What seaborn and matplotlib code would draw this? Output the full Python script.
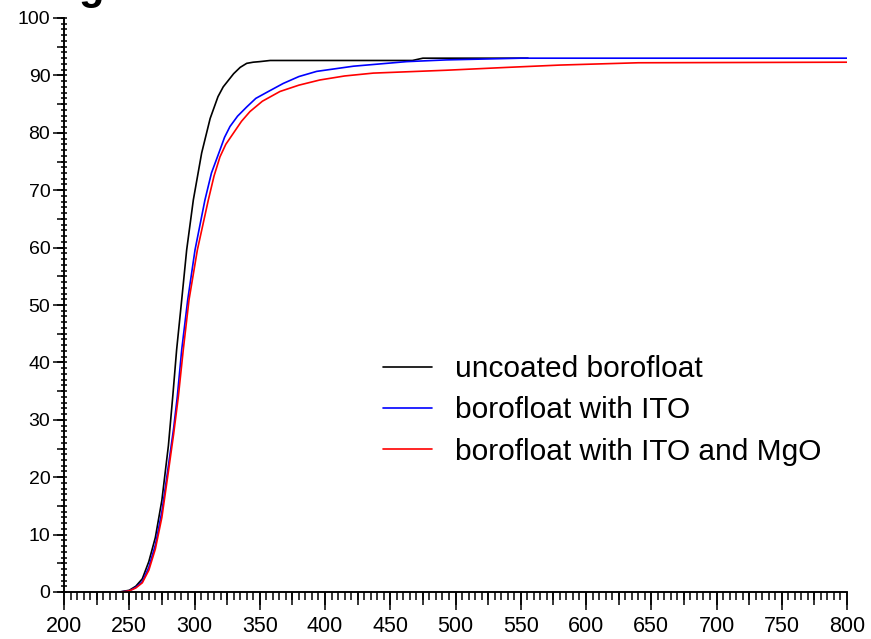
import numpy as np
import pandas as pd
import matplotlib
matplotlib.use("Agg")
import matplotlib.pyplot as plt
from matplotlib.ticker import MultipleLocator, NullFormatter
import seaborn as sns

# ---- data ----
labels = ["uncoated borofloat", "borofloat with ITO", "borofloat with ITO and MgO"]
colors = ["#000000", "#0000ff", "#ff0000"]

wl_uncoated = [242.4, 250, 255, 260, 265, 270, 275, 280, 283.5, 286.3, 290.2, 294.0, 299.1,
               305.5, 312, 318, 322, 330, 335, 340, 345, 350, 358, 400, 467, 475, 555.6]
t_uncoated = [0, 0.3, 1.0, 2.3, 5.3, 9.5, 16.0, 25.5, 34.5, 42.2, 50.9, 59.6, 68.3,
              76.5, 82.5, 86.3, 88.0, 90.3, 91.4, 92.1, 92.3, 92.4, 92.6, 92.6, 92.6, 93.0, 93.0]

wl_ito = [243, 250, 255, 260, 265, 270, 275, 280, 284, 286.8, 290.2, 294.8, 300.4, 308.0,
          313, 319.5, 323, 327.2, 333, 340, 347, 355, 368, 380, 393.6, 421.7, 462.6, 493,
          550, 800]
t_ito = [0, 0.2, 0.8, 1.8, 4.3, 8.2, 14.0, 22.0, 28.5, 34.0, 42.2, 50.9, 59.6, 68.3,
         73.0, 77.0, 79.2, 81.1, 82.9, 84.5, 86.0, 87.0, 88.6, 89.8, 90.7, 91.6, 92.4, 92.7,
         93.0, 93.0]

wl_mgo = [244, 250, 255, 260, 265, 270, 275, 280, 284, 287.6, 291.4, 295.8, 302.2, 310.6,
          315, 319.5, 324, 329.7, 336, 342.5, 352, 365.5, 380, 396, 415, 437, 493, 540, 580,
          640, 800]
t_mgo = [0, 0.2, 0.7, 1.6, 3.8, 7.5, 13.0, 21.0, 27.5, 34.0, 42.2, 50.9, 59.6, 68.3,
         72.5, 75.8, 78.0, 79.9, 82.0, 83.7, 85.5, 87.2, 88.3, 89.2, 89.9, 90.4, 90.9, 91.4,
         91.8, 92.2, 92.3]

x_ticks = [200, 250, 300, 350, 400, 450, 500, 550, 600, 650, 700, 750, 800]
y_ticks = [0, 10, 20, 30, 40, 50, 60, 70, 80, 90, 100]

df = pd.concat([
    pd.DataFrame({"wl": wl_uncoated, "T": t_uncoated, "sample": labels[0]}),
    pd.DataFrame({"wl": wl_ito, "T": t_ito, "sample": labels[1]}),
    pd.DataFrame({"wl": wl_mgo, "T": t_mgo, "sample": labels[2]}),
], ignore_index=True)

sns.set_style("white")
plt.rcParams["font.family"] = ["Liberation Sans", "DejaVu Sans"]
plt.rcParams["text.color"] = "black"
plt.rcParams["xtick.color"] = "black"
plt.rcParams["ytick.color"] = "black"

fig = plt.figure(figsize=(8.71, 6.39), dpi=100)
ax = fig.add_axes([64 / 871, 1 - 592 / 639, (847 - 64) / 871, (592 - 18) / 639])

sns.lineplot(data=df, x="wl", y="T", hue="sample", hue_order=labels,
             palette=colors, estimator=None, sort=False, legend=False,
             linewidth=1.2, ax=ax)

ax.set_xlim(200, 800)
ax.set_ylim(0, 100)
ax.set_xlabel("")
ax.set_ylabel("")
for s in ["top", "right"]:
    ax.spines[s].set_visible(False)
for s in ["left", "bottom"]:
    ax.spines[s].set_linewidth(1.2)
    ax.spines[s].set_color("black")

ax.set_xticks(x_ticks)
ax.set_yticks(y_ticks)
ax.xaxis.set_minor_locator(MultipleLocator(5))
ax.yaxis.set_minor_locator(MultipleLocator(1))
ax.yaxis.remove_overlapping_locs = False
ax.tick_params(axis="x", which="major", direction="out", length=13, width=1.1,
               pad=4, labelsize=15.5, color="black", labelcolor="black", bottom=True)
ax.tick_params(axis="x", which="minor", direction="out", length=5.8, width=1.1,
               color="black", bottom=True)
ax.tick_params(axis="y", which="major", direction="out", length=7.9, width=1.1,
               pad=2, labelsize=14, color="black", labelcolor="black", left=True)
ax.tick_params(axis="y", which="minor", direction="inout", length=4.8, width=1.1,
               color="black", left=True)

# medium ticks (every 25 on x, every 5 on y)
secx = ax.secondary_xaxis("bottom")
secx.set_xticks(np.arange(200, 801, 25))
secx.xaxis.set_major_formatter(NullFormatter())
secx.tick_params(direction="out", length=9.4, width=1.1, color="black")
secx.spines["bottom"].set_linewidth(1.2)
secy = ax.secondary_yaxis("left")
secy.set_yticks(np.arange(0, 101, 5))
secy.yaxis.set_major_formatter(NullFormatter())
secy.tick_params(direction="out", length=5, width=1.1, color="black")
secy.spines["left"].set_linewidth(1.2)

leg = ax.legend(handles=ax.lines[:3], labels=labels, frameon=False,
                loc="upper left", bbox_to_anchor=(383 / 871, 1 - 355 / 639),
                bbox_transform=fig.transFigure, borderpad=0, borderaxespad=0,
                handlelength=1.63, handletextpad=0.77, labelspacing=0.45,
                prop={"family": ["Liberation Sans", "DejaVu Sans"], "size": 21.5})
for t in leg.get_texts():
    t.set_color("black")

fig.text(78 / 871, 1 + 1 / 639, "g", fontsize=30, fontweight="bold", color="black",
         family=["Liberation Sans", "DejaVu Sans"], va="baseline", ha="left")

fig.savefig("out.png", dpi=100)
